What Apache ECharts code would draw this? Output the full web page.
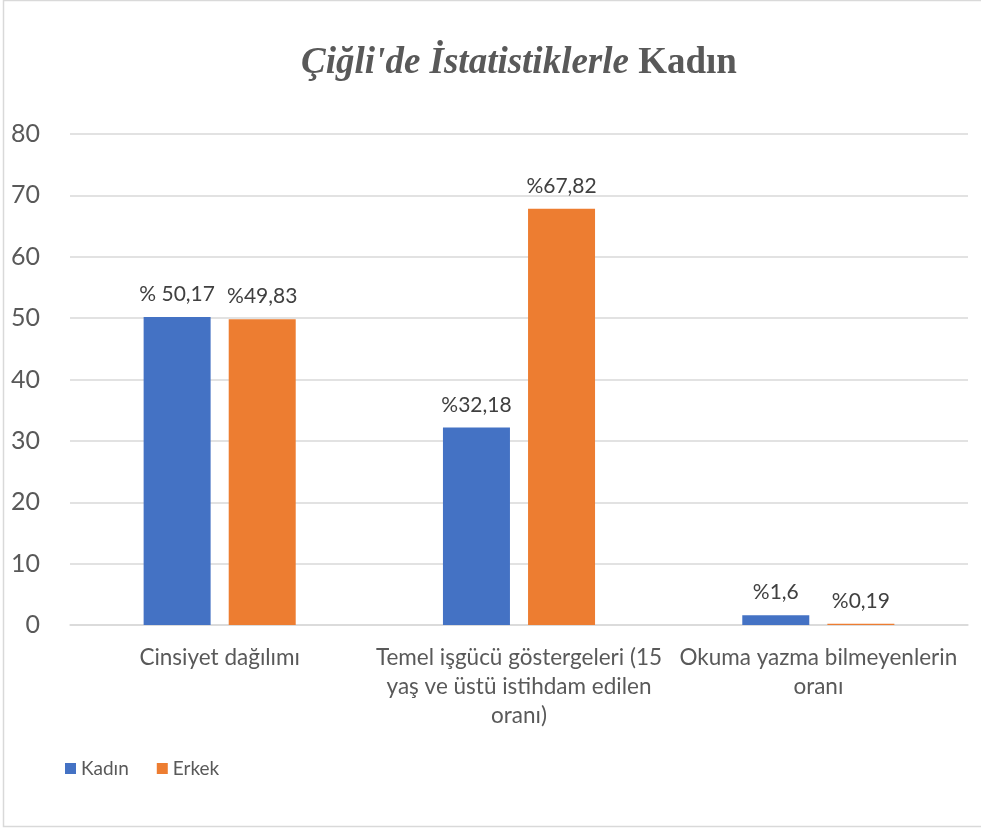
<!DOCTYPE html>
<html>
<head>
<meta charset="utf-8">
<script src="https://cdn.jsdelivr.net/npm/echarts@6/dist/echarts.min.js"></script>
<style>
  html, body { margin: 0; padding: 0; background: #fff; }
  #chart { width: 981px; height: 828px; }
</style>
</head>
<body>
<div id="chart"></div>
<script>
// kategoriler ve seriler
const categories = [
  'Cinsiyet dağılımı',
  'Temel işgücü göstergeleri (15\nyaş ve üstü istihdam edilen\noranı)',
  'Okuma yazma bilmeyenlerin\noranı'
]
const kadin = [50.17, 32.18, 1.6]
const erkek = [49.83, 67.82, 0.19]
const kadinLabels = ['% 50,17', '%32,18', '%1,6']
const erkekLabels = ['%49,83', '%67,82', '%0,19']

const chart = echarts.init(document.getElementById('chart'))

const labelStyle = (labels) => ({
  show: true,
  position: 'top',
  distance: 12,
  fontFamily: 'Lato',
  fontSize: 21,
  color: '#404040',
  formatter: p => labels[p.dataIndex]
})

chart.setOption({
  animation: false,
  title: {
    text: '{i|Çiğli\'de İstatistiklerle }{b|Kadın}',
    left: 514,
    textAlign: 'center',
    top: 40,
    textStyle: {
      rich: {
        i: { fontFamily: 'Liberation Serif', fontStyle: 'italic', fontWeight: 'bold', fontSize: 37, color: '#595959' },
        b: { fontFamily: 'Liberation Serif', fontWeight: 'bold', fontSize: 37, color: '#595959' }
      }
    }
  },
  graphic: [{
    type: 'rect',
    shape: { x: 3.5, y: 0.5, width: 990, height: 826 },
    style: { fill: 'none', stroke: '#d9d9d9', lineWidth: 1.5 },
    silent: true
  }],
  legend: {
    data: ['Kadın', 'Erkek'],
    left: 60,
    top: 754,
    itemWidth: 11,
    itemHeight: 11,
    itemGap: 28,
    icon: 'rect',
    textStyle: { fontFamily: 'Lato', fontSize: 19, color: '#595959' }
  },
  grid: { left: 70, right: 13, top: 134, bottom: 203 },
  xAxis: {
    type: 'category',
    data: categories,
    axisLine: { lineStyle: { color: '#d9d9d9', width: 1.5 } },
    axisTick: { show: false },
    axisLabel: {
      interval: 0,
      margin: 18,
      fontFamily: 'Lato',
      fontSize: 22.5,
      lineHeight: 29,
      color: '#595959'
    }
  },
  yAxis: {
    type: 'value',
    min: 0,
    max: 80,
    interval: 10,
    axisLine: { show: false },
    axisTick: { show: false },
    splitLine: { lineStyle: { color: '#d9d9d9', width: 1.5 } },
    axisLabel: { margin: 30, fontFamily: 'Lato', fontSize: 25, color: '#595959' }
  },
  series: [
    {
      name: 'Kadın',
      type: 'bar',
      data: kadin,
      barWidth: 67,
      barGap: '27%',
      itemStyle: { color: '#4472C4' },
      label: labelStyle(kadinLabels)
    },
    {
      name: 'Erkek',
      type: 'bar',
      data: erkek,
      barWidth: 67,
      barGap: '27%',
      itemStyle: { color: '#ED7D31' },
      label: labelStyle(erkekLabels)
    }
  ]
})
</script>
</body>
</html>
